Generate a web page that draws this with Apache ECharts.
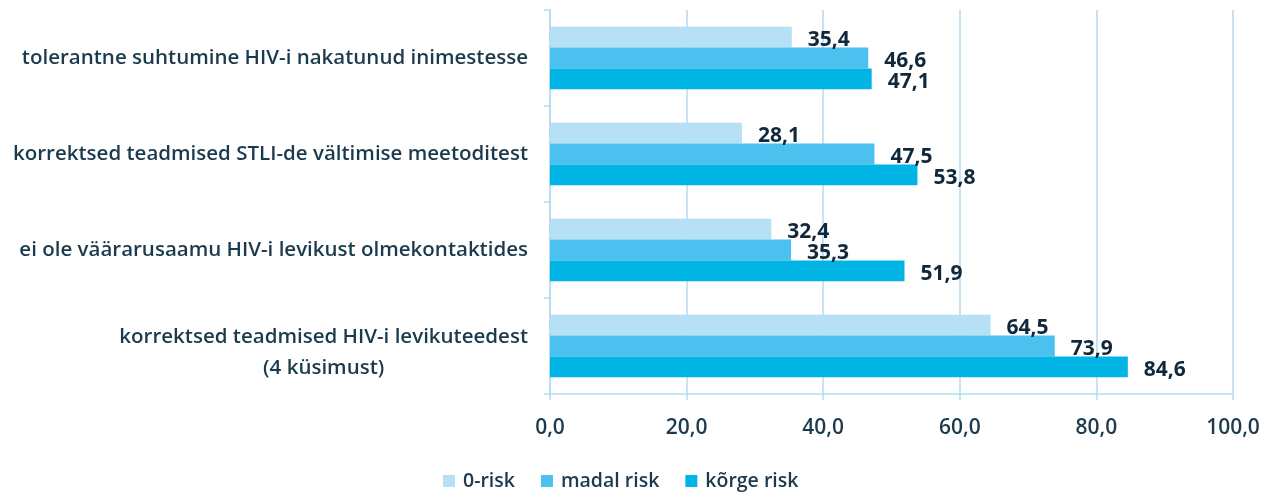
<!DOCTYPE html>
<html>
<head>
<meta charset="utf-8">
<script src="https://cdn.jsdelivr.net/npm/echarts@6/dist/echarts.min.js"></script>
<style>html,body{margin:0;padding:0;background:#fff;}#c{width:1271px;height:493px;}</style>
</head>
<body>
<div id="c"></div>
<script>
const categories = [
  'tolerantne suhtumine HIV-i nakatunud inimestesse',
  'korrektsed teadmised STLI-de vältimise meetoditest',
  'ei ole väärarusaamu HIV-i levikust olmekontaktides',
  'korrektsed teadmised HIV-i levikuteedest\n(4 küsimust)'
];
const seriesNames = ['0-risk', 'madal risk', 'kõrge risk'];
const zeroRisk = [35.4, 28.1, 32.4, 64.5];
const madalRisk = [46.6, 47.5, 35.3, 73.9];
const korgeRisk = [47.1, 53.8, 51.9, 84.6];
const xTicks = [0, 20, 40, 60, 80, 100];

const colors = ['#b6e0f6', '#4cc0ee', '#00b4e6'];
const textColor = '#1b3a4e';
const gridColor = '#b3dbf1';
const fmt = v => v.toFixed(1).replace('.', ',');

const data = [zeroRisk, madalRisk, korgeRisk];
const chart = echarts.init(document.getElementById('c'));
chart.setOption({
  animation: false,
  textStyle: { fontFamily: 'Open Sans' },
  grid: { left: 550, right: 38, top: 10, bottom: 99 },
  legend: {
    left: 438, top: 466,
    itemWidth: 12, itemHeight: 12, itemGap: 26,
    icon: 'rect',
    textStyle: { fontSize: 19.5, fontWeight: 600, color: textColor, fontFamily: 'Open Sans', padding: [0, 0, 0, 3] },
    data: seriesNames
  },
  xAxis: {
    type: 'value', min: xTicks[0], max: xTicks[xTicks.length - 1], interval: 20,
    axisLine: { show: true, lineStyle: { color: gridColor, width: 1.5 } },
    axisTick: { show: true, length: 6, lineStyle: { color: gridColor, width: 1.5 } },
    splitLine: { show: true, lineStyle: { color: gridColor, width: 1.5 } },
    axisLabel: { color: textColor, fontSize: 21, fontWeight: 600, margin: 24, formatter: v => fmt(v) }
  },
  yAxis: {
    type: 'category', data: categories, inverse: true,
    axisLine: { show: true, lineStyle: { color: gridColor, width: 1.5 } },
    axisTick: { show: true, length: 6, lineStyle: { color: gridColor, width: 1.5 } },
    axisLabel: {
      color: textColor, fontSize: 20.5, fontWeight: 600, margin: 22,
      formatter: v => {
        const lines = v.split('\n');
        const body = lines.map(l => '{c|' + l + '}').join('\n');
        return lines.length > 1 ? '{e| }\n' + body : body;
      },
      rich: {
        c: { align: 'center', fontSize: 20.5, fontWeight: 600, color: textColor, fontFamily: 'Open Sans', lineHeight: 31 },
        e: { fontSize: 4, lineHeight: 14, height: 14 }
      }
    }
  },
  series: seriesNames.map((n, i) => ({
    name: n, type: 'bar', data: data[i],
    barGap: '0%', barCategoryGap: '35%',
    itemStyle: { color: colors[i] },
    label: {
      show: true, position: 'right', distance: 16, offset: [0, 3],
      color: '#10283a', fontWeight: 'bold', fontSize: 21,
      formatter: p => fmt(p.value)
    }
  }))
});
</script>
</body>
</html>
